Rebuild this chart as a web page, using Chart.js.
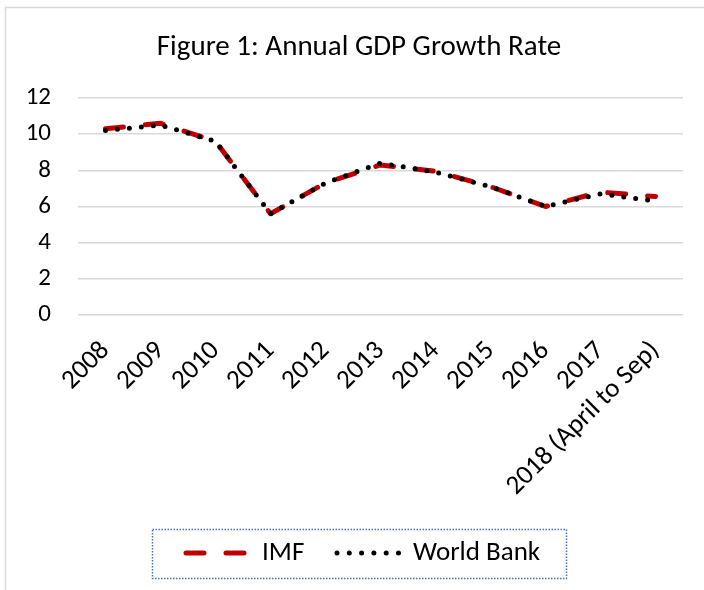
<!DOCTYPE html>
<html>
<head>
<meta charset="utf-8">
<script src="https://cdn.jsdelivr.net/npm/chart.js@4/dist/chart.umd.min.js"></script>
<style>
html,body{margin:0;padding:0;background:#fff;}
canvas{display:block;}
</style>
</head>
<body>
<canvas id="c" width="704" height="590"></canvas>
<script>
const categories = ["2008","2009","2010","2011","2012","2013","2014","2015","2016","2017","2018 (April to Sep)"];
const imfValues = [10.3, 10.6, 9.6, 5.6, 7.3, 8.3, 7.95, 7.1, 6.0, 6.8, 6.55];
const worldBankValues = [10.2, 10.5, 9.6, 5.6, 7.3, 8.4, 7.9, 7.1, 6.0, 6.7, 6.3];
const yTicks = [0, 2, 4, 6, 8, 10, 12];
const titleText = "Figure 1: Annual GDP Growth Rate";
const seriesNames = ["IMF", "World Bank"];

const FONT = "Carlito, Lato, sans-serif";

const decorPlugin = {
  id: 'decor',
  beforeDraw(chart) {
    const ctx = chart.ctx;
    ctx.save();
    ctx.fillStyle = '#fff';
    ctx.fillRect(0, 0, chart.width, chart.height);
    ctx.strokeStyle = '#d9d9d9';
    ctx.lineWidth = 1.5;
    ctx.strokeRect(5.5, 7.5, 900, 900);
    ctx.restore();
  },
  afterDraw(chart) {
    const ctx = chart.ctx;
    ctx.save();
    // title
    ctx.fillStyle = '#000';
    ctx.font = '29px ' + FONT;
    ctx.textAlign = 'center';
    ctx.textBaseline = 'middle';
    ctx.fillText(titleText, 359, 48);
    // legend box
    ctx.strokeStyle = '#4472C4';
    ctx.lineWidth = 1.5;
    ctx.setLineDash([1.5, 1.5]);
    ctx.strokeRect(152.5, 529.5, 414, 49);
    // legend IMF
    const ly = 553;
    ctx.setLineDash([18, 22]);
    ctx.lineCap = 'round';
    ctx.lineWidth = 5;
    ctx.strokeStyle = '#C00000';
    ctx.beginPath(); ctx.moveTo(186, ly); ctx.lineTo(246, ly); ctx.stroke();
    // legend WB
    ctx.setLineDash([0, 12.3]);
    ctx.strokeStyle = '#000';
    ctx.lineWidth = 5;
    ctx.beginPath(); ctx.moveTo(337, ly); ctx.lineTo(399, ly); ctx.stroke();
    ctx.setLineDash([]);
    ctx.fillStyle = '#000';
    ctx.font = '27px ' + FONT;
    ctx.textAlign = 'left';
    ctx.textBaseline = 'middle';
    ctx.fillText(seriesNames[0], 262, ly);
    ctx.fillText(seriesNames[1], 413, ly);
    ctx.restore();
  }
};

new Chart(document.getElementById('c'), {
  type: 'line',
  data: {
    labels: categories,
    datasets: [
      {
        label: seriesNames[0],
        data: imfValues,
        borderColor: '#C00000',
        borderWidth: 5,
        borderDash: [18, 22],
        borderCapStyle: 'round',
        borderJoinStyle: 'round',
        pointRadius: 0,
        tension: 0,
        fill: false,
        order: 1
      },
      {
        label: seriesNames[1],
        data: worldBankValues,
        borderColor: '#000',
        borderWidth: 5,
        borderDash: [0, 12],
        borderCapStyle: 'round',
        borderJoinStyle: 'round',
        pointRadius: 0,
        tension: 0,
        fill: false,
        order: 0
      }
    ]
  },
  options: {
    responsive: false,
    animation: false,
    devicePixelRatio: 1,
    layout: { padding: { top: 98, right: 21, bottom: 0, left: 0 } },
    plugins: {
      legend: { display: false },
      title: { display: false },
      tooltip: { enabled: false }
    },
    scales: {
      x: {
        offset: true,
        grid: { display: false, drawTicks: false },
        border: { display: false },
        ticks: {
          color: '#000',
          font: { family: FONT, size: 27 },
          maxRotation: 45,
          minRotation: 45,
          padding: 20,
          autoSkip: false
        },
        afterFit(scale) { scale.height = 275; }
      },
      y: {
        min: 0,
        max: 12,
        afterBuildTicks(scale) { scale.ticks = yTicks.map(v => ({ value: v })); },
        grid: { color: '#d9d9d9', lineWidth: 1.5, drawTicks: false },
        border: { display: false },
        ticks: {
          color: '#000',
          font: { family: FONT, size: 25 },
          padding: 27
        },
        afterFit(scale) { scale.width = 78; }
      }
    }
  },
  plugins: [decorPlugin]
});
</script>
</body>
</html>
